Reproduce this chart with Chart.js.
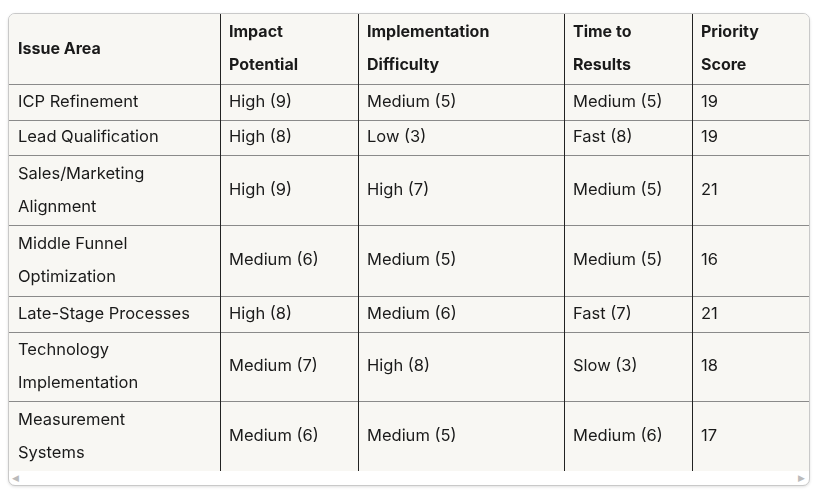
<!DOCTYPE html>
<html>
<head>
<meta charset="utf-8">
<script src="https://cdn.jsdelivr.net/npm/chart.js@4"></script>
<style>
  body { margin: 0; background: #fff; }
  #wrap { position: absolute; left: 8px; top: 13px; width: 800px; height: 471px;
          border: 1px solid #c9c9c9; border-radius: 7px; overflow: hidden; background: #fff;
          box-shadow: 0 1px 3px rgba(0,0,0,0.12); }
  #box { position: absolute; left: 0; top: 0; width: 800px; height: 457px; }
  .arr { position: absolute; top: 459px; font-size: 9px; color: #bbb; font-family: "DejaVu Sans"; }
</style>
</head>
<body>
<div id="wrap">
  <div id="box"><canvas id="tbl"></canvas></div>
  <span class="arr" style="left:3px">&#9664;</span>
  <span class="arr" style="left:789px">&#9654;</span>
</div>
<script>
// ==== Data ====
const headers = ["Issue Area", "Impact\nPotential", "Implementation\nDifficulty", "Time to\nResults", "Priority\nScore"];
const issues = ["ICP Refinement", "Lead Qualification", "Sales/Marketing\nAlignment", "Middle Funnel\nOptimization",
  "Late-Stage Processes", "Technology\nImplementation", "Measurement\nSystems"];
const impact = ["High (9)", "High (8)", "High (9)", "Medium (6)", "High (8)", "Medium (7)", "Medium (6)"];
const difficulty = ["Medium (5)", "Low (3)", "High (7)", "Medium (5)", "Medium (6)", "High (8)", "Medium (5)"];
const timeToResults = ["Medium (5)", "Fast (8)", "Medium (5)", "Medium (5)", "Fast (7)", "Slow (3)", "Medium (6)"];
const priority = [19, 19, 21, 16, 21, 18, 17];

// layout (in scale units = px)
const colWidths = [211, 138, 206, 128, 117];
const rowHeights = [70, 36, 36, 70, 71, 36, 70, 70];

const colEdges = [0];
colWidths.forEach(w => colEdges.push(colEdges[colEdges.length - 1] + w));
const rowEdges = [0];
rowHeights.forEach(h => rowEdges.push(rowEdges[rowEdges.length - 1] + h));

const rows = [headers].concat(issues.map((s, i) => [s, impact[i], difficulty[i], timeToResults[i], String(priority[i])]));

// ==== Table plugin ====
const tablePlugin = {
  id: "tablePlugin",
  beforeDraw(chart) {
    const { ctx, scales: { x, y } } = chart;
    ctx.save();
    ctx.fillStyle = "#f8f7f3";
    ctx.fillRect(x.getPixelForValue(0), y.getPixelForValue(0),
      x.getPixelForValue(colEdges[5]) - x.getPixelForValue(0), y.getPixelForValue(rowEdges[8]) - y.getPixelForValue(0));

    // horizontal lines
    ctx.strokeStyle = "#8a8a8a";
    ctx.lineWidth = 1;
    for (let r = 1; r < rowEdges.length - 1; r++) {
      const py = Math.round(y.getPixelForValue(rowEdges[r])) + 0.5;
      ctx.beginPath();
      ctx.moveTo(x.getPixelForValue(0), py);
      ctx.lineTo(x.getPixelForValue(colEdges[5]), py);
      ctx.stroke();
    }
    // vertical lines
    ctx.strokeStyle = "#222";
    for (let c = 1; c < colEdges.length - 1; c++) {
      const px = Math.round(x.getPixelForValue(colEdges[c])) + 0.5;
      ctx.beginPath();
      ctx.moveTo(px, y.getPixelForValue(0));
      ctx.lineTo(px, y.getPixelForValue(rowEdges[8]));
      ctx.stroke();
    }

    // text
    ctx.fillStyle = "#1a1a1a";
    ctx.textBaseline = "middle";
    rows.forEach((row, r) => {
      ctx.font = (r === 0 ? "bold 16px " : "16.5px ") + "Inter, Lato, sans-serif";
      row.forEach((cell, c) => {
        const lines = cell.split("\n");
        const cy = (y.getPixelForValue(rowEdges[r]) + y.getPixelForValue(rowEdges[r + 1])) / 2;
        const px = x.getPixelForValue(colEdges[c]) + 9;
        lines.forEach((ln, k) => {
          ctx.fillText(ln, px, cy + (k - (lines.length - 1) / 2) * 33);
        });
      });
    });
    ctx.restore();
  }
};

new Chart(document.getElementById("tbl"), {
  type: "scatter",
  data: { datasets: [{ data: [] }] },
  options: {
    responsive: true,
    maintainAspectRatio: false,
    animation: false,
    layout: { padding: 0 },
    plugins: { legend: { display: false }, tooltip: { enabled: false } },
    scales: {
      x: { type: "linear", min: 0, max: colEdges[5], display: false },
      y: { type: "linear", min: 0, max: rowEdges[8], reverse: true, display: false }
    }
  },
  plugins: [tablePlugin]
});
</script>
</body>
</html>
